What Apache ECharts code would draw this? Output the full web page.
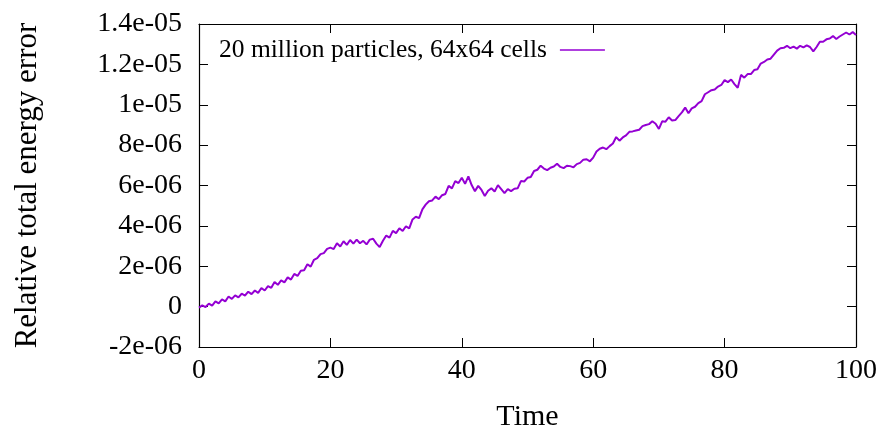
<!DOCTYPE html>
<html>
<head>
<meta charset="utf-8">
<script src="https://cdn.jsdelivr.net/npm/echarts@6/dist/echarts.min.js"></script>
<style>
html,body{margin:0;padding:0;background:#fff;}
#chart{width:880px;height:437px;}
</style>
</head>
<body>
<div id="chart"></div>
<script>
// Sample times
const time = [
  0,0.5,1,1.5,2,2.5,3,3.5,4,4.5,5,5.5,6,6.5,7,7.5,8,8.5,9,9.5,
  10,10.5,11,11.5,12,12.5,13,13.5,14,14.5,15,15.5,16,16.5,17,17.5,18,18.5,19,19.5,
  20,20.5,21,21.5,22,22.5,23,23.5,24,24.5,25,25.5,26,26.5,27,27.5,28,28.5,29,29.5,
  30,30.5,31,31.5,32,32.5,33,33.5,34,34.5,35,35.5,36,36.5,37,37.5,38,38.5,39,39.5,
  40,40.5,41,41.5,42,42.5,43,43.5,44,44.5,45,45.5,46,46.5,47,47.5,48,48.5,49,49.5,
  50,50.5,51,51.5,52,52.5,53,53.5,54,54.5,55,55.5,56,56.5,57,57.5,58,58.5,59,59.5,
  60,60.5,61,61.5,62,62.5,63,63.5,64,64.5,65,65.5,66,66.5,67,67.5,68,68.5,69,69.5,
  70,70.5,71,71.5,72,72.5,73,73.5,74,74.5,75,75.5,76,76.5,77,77.5,78,78.5,79,79.5,
  80,80.5,81,81.5,82,82.5,83,83.5,84,84.5,85,85.5,86,86.5,87,87.5,88,88.5,89,89.5,
  90,90.5,91,91.5,92,92.5,93,93.5,94,94.5,95,95.5,96,96.5,97,97.5,98,98.5,99,99.5,
  100
];
// Relative total energy error, in units of 1e-6
const energyErrorE6 = [
  -0.05,0.06,-0.02,0.15,0.05,0.26,0.16,0.36,0.26,0.50,
  0.38,0.56,0.46,0.64,0.55,0.74,0.62,0.80,0.68,0.92,
  0.80,1.02,0.93,1.22,1.08,1.30,1.20,1.45,1.34,1.62,
  1.52,1.78,1.80,2.10,1.98,2.32,2.40,2.60,2.65,2.86,
  2.92,2.85,3.14,2.98,3.24,3.06,3.30,3.12,3.32,3.14,
  3.26,3.08,3.32,3.36,3.12,2.95,3.26,3.52,3.42,3.75,
  3.64,3.88,3.75,3.98,3.88,4.32,4.45,4.38,4.82,5.05,
  5.22,5.26,5.45,5.32,5.52,5.58,5.98,5.86,6.22,6.12,
  6.38,6.08,6.45,6.02,5.72,5.98,5.78,5.48,5.74,5.86,
  5.70,6.02,5.82,5.62,5.82,5.72,5.84,5.86,6.22,6.20,
  6.38,6.42,6.72,6.78,6.98,6.84,6.76,6.88,6.94,7.08,
  6.92,6.86,6.98,6.96,6.90,7.06,7.12,7.28,7.30,7.20,
  7.38,7.68,7.82,7.88,7.80,7.95,8.08,8.40,8.22,8.38,
  8.48,8.66,8.68,8.72,8.76,8.94,9.00,9.04,9.18,9.06,
  8.80,9.18,9.16,9.38,9.22,9.24,9.44,9.62,9.86,9.58,
  9.82,9.90,10.08,10.18,10.52,10.62,10.72,10.76,10.90,10.98,
  11.22,11.12,11.25,11.02,10.84,11.48,11.34,11.52,11.52,11.72,
  11.76,12.04,12.12,12.24,12.28,12.48,12.68,12.80,12.82,12.92,
  12.80,12.88,12.78,12.92,12.84,12.94,12.86,12.64,12.86,13.12,
  13.12,13.24,13.28,13.40,13.26,13.38,13.48,13.58,13.48,13.60,
  13.45
];
const yTickValues = [-2,0,2,4,6,8,10,12,14];
const yTickLabels = ['-2e-06','0','2e-06','4e-06','6e-06','8e-06','1e-05','1.2e-05','1.4e-05'];
const xTickLabels = ['0','20','40','60','80','100'];
const seriesName = '20 million particles, 64x64 cells';

const FONT = '"Liberation Serif", "DejaVu Serif", serif';
const chart = echarts.init(document.getElementById('chart'), null, {renderer: 'canvas'});
const seriesData = time.map((t, i) => [t, energyErrorE6[i]]);

const tick = {show: true, inside: true, length: 9, lineStyle: {color: '#000', width: 1}};
const line = {show: true, onZero: false, lineStyle: {color: '#000', width: 1.2}};

chart.setOption({
  animation: false,
  backgroundColor: '#fff',
  grid: {left: 199, right: 23, top: 24, bottom: 89, containLabel: false},
  legend: {
    show: true,
    left: 214, top: 32,
    align: 'right',
    icon: 'rect',
    itemWidth: 45, itemHeight: 1.5, itemGap: 8,
    textStyle: {fontFamily: FONT, fontSize: 25.5, color: '#000', padding: [0, 8, 0, 0]},
    data: [{name: seriesName}]
  },
  xAxis: [
    {
      type: 'value', min: 0, max: 100, interval: 20, position: 'bottom',
      name: 'Time', nameLocation: 'middle', nameGap: 55,
      nameTextStyle: {fontFamily: FONT, fontSize: 30, color: '#000'},
      axisLine: line, axisTick: tick, splitLine: {show: false},
      axisLabel: {margin: 10, fontFamily: FONT, fontSize: 28, color: '#000',
        formatter: v => xTickLabels[Math.round(v / 20)]}
    },
    {
      type: 'value', min: 0, max: 100, interval: 20, position: 'top',
      axisLine: line, axisTick: tick, splitLine: {show: false}, axisLabel: {show: false}
    }
  ],
  yAxis: [
    {
      type: 'value', min: -2, max: 14, interval: 2, position: 'left',
      name: 'Relative total energy error', nameLocation: 'middle', nameGap: 156,
      nameTextStyle: {fontFamily: FONT, fontSize: 31, color: '#000'},
      axisLine: line, axisTick: tick, splitLine: {show: false},
      axisLabel: {margin: 17, fontFamily: FONT, fontSize: 28, color: '#000',
        formatter: v => yTickLabels[yTickValues.indexOf(Math.round(v))]}
    },
    {
      type: 'value', min: -2, max: 14, interval: 2, position: 'right',
      axisLine: line, axisTick: tick, splitLine: {show: false}, axisLabel: {show: false}
    }
  ],
  series: [{
    name: seriesName,
    type: 'line',
    xAxisIndex: 0, yAxisIndex: 0,
    data: seriesData,
    symbol: 'none',
    showSymbol: false,
    lineStyle: {color: '#9400D3', width: 2},
    itemStyle: {color: '#9400D3'},
    clip: true
  }]
});
</script>
</body>
</html>
